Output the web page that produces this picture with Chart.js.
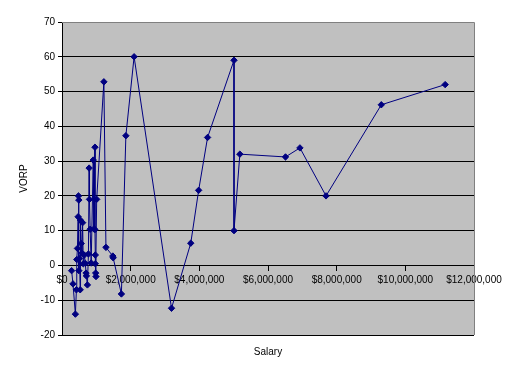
<!DOCTYPE html>
<html>
<head>
<meta charset="utf-8">
<script src="https://cdn.jsdelivr.net/npm/chart.js@4/dist/chart.umd.min.js"></script>
<style>
  html, body { margin: 0; padding: 0; background: #fff; }
  #wrap { width: 515px; height: 377px; }
</style>
</head>
<body>
<div id="wrap"><canvas id="chart" width="515" height="377"></canvas></div>
<script>
// salary in $ millions, VORP - in the order the series is plotted
const salary = [0.28, 0.32, 0.39, 0.42, 0.43, 0.45, 0.47, 0.48, 0.49, 0.49, 0.51, 0.53, 0.54, 0.56, 0.58,
  0.60, 0.62, 0.65, 0.68, 0.70, 0.71, 0.74, 0.77, 0.79, 0.80, 0.82, 0.85, 0.91, 0.93, 0.96, 0.96, 0.97,
  0.97, 0.98, 0.99, 1.01, 1.22, 1.28, 1.48, 1.49, 1.73, 1.86, 2.10, 3.19, 3.75, 3.98, 4.24, 5.01, 5.01,
  5.18, 6.51, 6.93, 7.69, 9.30, 11.16];
const vorp = [-1.5, -5.3, -14, -7, 1.7, 4.9, 14, 20, 18.8, -1.5, 2, -7, 13, 6.3, 3.5,
  12.3, 0.5, 3, 0.6, -2.2, -3, -5.6, 3.3, 28, 19, 10.4, 0.7, 30.3, 10.5, 34, 10.3, 3,
  0.5, -2.2, -3.2, 19, 52.8, 5.2, 2.7, 2.2, -8.2, 37.3, 60, -12.3, 6.4, 21.6, 36.8, 59, 10,
  32, 31.2, 33.8, 20, 46.2, 52];

const xMin = 0, xMax = 12000000, xStep = 2000000;
const yMin = -20, yMax = 70, yStep = 10;

const points = salary.map((s, i) => ({ x: s * 1000000, y: vorp[i] }));

// grey plot area like the old Excel charts
const plotBg = {
    id: 'plotBg',
    beforeDraw(chart) {
        const a = chart.chartArea;
        const ctx = chart.ctx;
        ctx.save();
        ctx.fillStyle = '#c0c0c0';
        ctx.fillRect(a.left, a.top, a.right - a.left, a.bottom - a.top);
        ctx.restore();
    },
    afterDatasetsDraw(chart) {
        const a = chart.chartArea;
        const ctx = chart.ctx;
        ctx.save();
        ctx.strokeStyle = '#808080';
        ctx.lineWidth = 1;
        ctx.beginPath();
        ctx.moveTo(a.left, a.top + 0.5);
        ctx.lineTo(a.right + 0.5, a.top + 0.5);
        ctx.lineTo(a.right + 0.5, a.bottom);
        ctx.stroke();
        ctx.restore();
    }
};

const font = { family: 'Liberation Sans, Arial, sans-serif', size: 10 };

new Chart(document.getElementById('chart'), {
    type: 'scatter',
    data: {
        datasets: [{
            data: points,
            showLine: true,
            borderColor: '#000080',
            borderWidth: 1,
            backgroundColor: '#000080',
            pointStyle: 'rectRot',
            pointRadius: 3.2,
            pointBorderWidth: 1,
            tension: 0
        }]
    },
    options: {
        responsive: false,
        animation: false,
        layout: { padding: { top: 22, right: 41, left: 0, bottom: 0 } },
        plugins: { legend: { display: false }, tooltip: { enabled: false } },
        scales: {
            x: {
                type: 'linear',
                position: { y: 0 },
                min: xMin, max: xMax,
                ticks: {
                    stepSize: xStep,
                    color: '#000',
                    font: font,
                    padding: 4,
                    maxRotation: 0,
                    callback: v => '$' + Number(v).toLocaleString('en-US')
                },
                grid: { display: true, drawOnChartArea: false, drawTicks: true, tickLength: 5, color: 'rgba(0,0,0,0)', tickColor: '#000' },
                border: { color: '#000', width: 1 }
            },
            x2: {
                type: 'linear',
                position: 'bottom',
                min: xMin, max: xMax,
                ticks: { display: false },
                grid: { display: false, drawTicks: false },
                border: { display: false },
                title: { display: true, text: 'Salary', color: '#000', font: font, padding: { top: 0, bottom: 19 } },
                afterFit(scale) { scale.height = 42; }
            },
            y: {
                min: yMin, max: yMax,
                ticks: { stepSize: yStep, color: '#000', font: font, padding: 3 },
                grid: { color: '#000', lineWidth: 1, drawTicks: true, tickLength: 4, tickColor: '#000' },
                border: { color: '#000', width: 1 },
                title: { display: true, text: 'VORP', color: '#000', font: font, padding: { top: 18, bottom: 0 } },
                afterFit(scale) { scale.width = 62; }
            }
        }
    },
    plugins: [plotBg]
});
</script>
</body>
</html>
